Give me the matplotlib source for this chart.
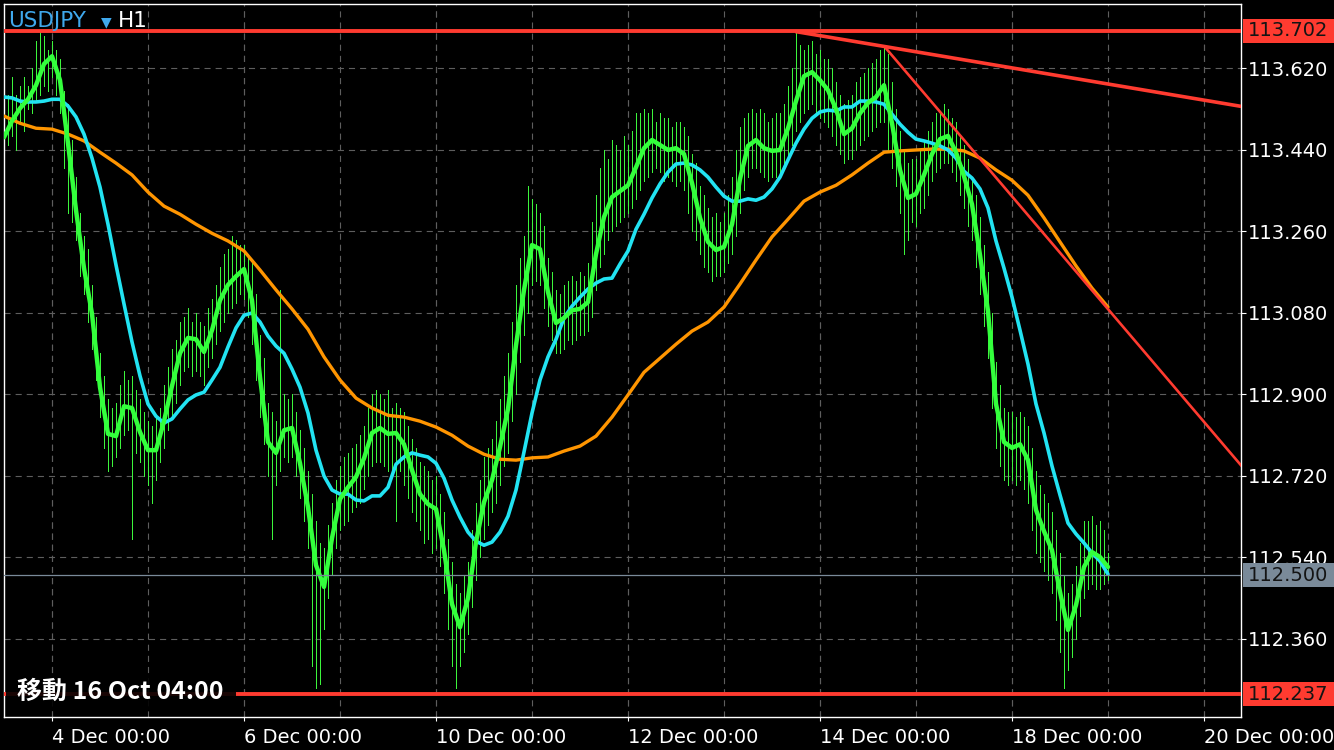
import matplotlib
matplotlib.use('Agg')
import matplotlib.pyplot as plt
import matplotlib.patches as mpatches
import matplotlib.transforms as mtransforms
import numpy as np

W, H = 1334, 750

# ---------------- data ----------------
symbol = "USDJPY"
timeframe = "H1"
x_tick_bars = [12, 60, 108, 156, 204, 252, 300]
x_tick_labels = ['4 Dec 00:00', '6 Dec 00:00', '10 Dec 00:00', '12 Dec 00:00',
                 '14 Dec 00:00', '18 Dec 00:00', '20 Dec 00:00']
y_ticks = [112.360, 112.540, 112.720, 112.900, 113.080, 113.260, 113.440, 113.620]

bar_high = [
    113.59, 113.56, 113.60, 113.56, 113.58, 113.60, 113.58, 113.62, 113.68, 113.70,
    113.69, 113.66, 113.68, 113.66, 113.64, 113.57, 113.54, 113.46, 113.38, 113.30,
    113.25, 113.22, 113.14, 113.07, 112.99, 112.94, 112.89, 112.87, 112.88, 112.92,
    112.95, 112.93, 112.94, 112.91, 112.89, 112.86, 112.84, 112.83, 112.85, 112.87,
    112.92, 112.96, 113.00, 113.02, 113.06, 113.07, 113.09, 113.06, 113.08, 113.06,
    113.05, 113.09, 113.11, 113.14, 113.18, 113.21, 113.22, 113.25, 113.24, 113.23,
    113.23, 113.21, 113.19, 113.12, 113.03, 112.98, 112.88, 112.86, 112.84, 113.13,
    112.90, 112.89, 112.90, 112.86, 112.82, 112.78, 112.73, 112.68, 112.62, 112.57,
    112.56, 112.61, 112.66, 112.71, 112.74, 112.76, 112.77, 112.78, 112.79, 112.81,
    112.83, 112.87, 112.90, 112.91, 112.90, 112.89, 112.91, 112.87, 112.88, 112.87,
    112.86, 112.83, 112.80, 112.78, 112.75, 112.74, 112.73, 112.71, 112.72, 112.68,
    112.64, 112.58, 112.53, 112.48, 112.46, 112.50, 112.53, 112.60, 112.66, 112.71,
    112.76, 112.78, 112.80, 112.84, 112.89, 112.94, 112.99, 113.06, 113.14, 113.20,
    113.25, 113.36, 113.33, 113.32, 113.30, 113.27, 113.20, 113.17, 113.13, 113.12,
    113.14, 113.15, 113.16, 113.15, 113.17, 113.16, 113.19, 113.28, 113.34, 113.40,
    113.44, 113.42, 113.46, 113.45, 113.44, 113.47, 113.45, 113.48, 113.52, 113.52,
    113.53, 113.52, 113.53, 113.50, 113.52, 113.51, 113.51, 113.49, 113.50, 113.50,
    113.49, 113.47, 113.43, 113.41, 113.36, 113.34, 113.31, 113.29, 113.30, 113.28,
    113.30, 113.34, 113.38, 113.44, 113.49, 113.51, 113.52, 113.53, 113.52, 113.53,
    113.52, 113.50, 113.51, 113.52, 113.52, 113.54, 113.58, 113.62, 113.70, 113.67,
    113.66, 113.67, 113.68, 113.65, 113.66, 113.64, 113.64, 113.62, 113.59, 113.56,
    113.54, 113.55, 113.56, 113.59, 113.60, 113.61, 113.62, 113.63, 113.64, 113.66,
    113.67, 113.65, 113.59, 113.53, 113.48, 113.44, 113.41, 113.42, 113.42, 113.44,
    113.46, 113.48, 113.50, 113.52, 113.52, 113.54, 113.53, 113.51, 113.50, 113.47,
    113.45, 113.42, 113.38, 113.34, 113.29, 113.23, 113.17, 113.08, 112.97, 112.92,
    112.87, 112.86, 112.86, 112.85, 112.86, 112.85, 112.83, 112.78, 112.73, 112.70,
    112.68, 112.66, 112.64, 112.60, 112.55, 112.50, 112.46, 112.48, 112.52, 112.57,
    112.62, 112.62, 112.63, 112.61, 112.62, 112.60, 112.55,
]
bar_low = [
    113.43, 113.45, 113.47, 113.44, 113.50, 113.48, 113.53, 113.52, 113.55, 113.56,
    113.58, 113.57, 113.60, 113.56, 113.52, 113.40, 113.30, 113.28, 113.24, 113.16,
    113.12, 113.06, 113.00, 112.93, 112.85, 112.78, 112.73, 112.74, 112.76, 112.78,
    112.81, 112.82, 112.58, 112.77, 112.75, 112.72, 112.70, 112.66, 112.71, 112.75,
    112.78, 112.82, 112.85, 112.88, 112.92, 112.95, 112.96, 112.94, 112.95, 112.94,
    112.92, 112.96, 112.98, 113.01, 113.04, 113.06, 113.08, 113.09, 113.10, 113.12,
    113.11, 113.07, 113.01, 112.93, 112.85, 112.79, 112.72, 112.58, 112.70, 112.73,
    112.76, 112.75, 112.76, 112.72, 112.67, 112.62, 112.56, 112.30, 112.25, 112.26,
    112.38, 112.45, 112.50, 112.56, 112.60, 112.61, 112.62, 112.64, 112.65, 112.66,
    112.69, 112.72, 112.74, 112.75, 112.75, 112.74, 112.73, 112.72, 112.62, 112.73,
    112.70, 112.67, 112.64, 112.62, 112.60, 112.57, 112.58, 112.55, 112.56, 112.52,
    112.46, 112.38, 112.30, 112.25, 112.30, 112.33, 112.37, 112.43, 112.49, 112.54,
    112.58, 112.61, 112.64, 112.66, 112.70, 112.74, 112.77, 112.84, 112.90, 112.97,
    113.03, 113.08, 113.14, 113.15, 113.14, 113.09, 113.05, 113.02, 112.99, 112.99,
    113.00, 113.02, 113.01, 113.02, 113.03, 113.03, 113.04, 113.07, 113.13, 113.18,
    113.21, 113.24, 113.26, 113.27, 113.28, 113.29, 113.30, 113.31, 113.33, 113.35,
    113.37, 113.38, 113.39, 113.40, 113.39, 113.37, 113.38, 113.37, 113.36, 113.37,
    113.35, 113.30, 113.26, 113.24, 113.21, 113.18, 113.17, 113.15, 113.16, 113.16,
    113.17, 113.19, 113.21, 113.25, 113.30, 113.35, 113.38, 113.40, 113.40, 113.39,
    113.38, 113.37, 113.38, 113.38, 113.39, 113.40, 113.42, 113.45, 113.48, 113.50,
    113.52, 113.53, 113.54, 113.52, 113.51, 113.50, 113.49, 113.47, 113.45, 113.43,
    113.41, 113.42, 113.42, 113.44, 113.45, 113.46, 113.47, 113.48, 113.49, 113.50,
    113.50, 113.44, 113.40, 113.36, 113.30, 113.21, 113.24, 113.28, 113.27, 113.30,
    113.31, 113.34, 113.37, 113.39, 113.40, 113.41, 113.41, 113.39, 113.37, 113.34,
    113.31, 113.27, 113.24, 113.18, 113.12, 113.05, 112.98, 112.87, 112.78, 112.74,
    112.71, 112.70, 112.71, 112.70, 112.71, 112.69, 112.66, 112.60, 112.55, 112.53,
    112.51, 112.49, 112.46, 112.40, 112.33, 112.25, 112.29, 112.32, 112.36, 112.41,
    112.45, 112.47, 112.48, 112.47, 112.47, 112.48, 112.49,
]

# fast and medium MA, one value every 2 bars
fast_step = 2
fast_ma = [
    113.467, 113.503, 113.531, 113.551, 113.582, 113.629, 113.646, 113.593, 113.454, 113.306,
    113.178, 113.077, 112.915, 112.812, 112.807, 112.873, 112.869, 112.816, 112.776, 112.776,
    112.840, 112.918, 112.990, 113.024, 113.021, 112.993, 113.041, 113.107, 113.141, 113.160,
    113.176, 113.107, 112.937, 112.794, 112.770, 112.820, 112.825, 112.747, 112.650, 112.522,
    112.474, 112.582, 112.668, 112.694, 112.717, 112.758, 112.814, 112.825, 112.812, 112.814,
    112.789, 112.732, 112.679, 112.657, 112.646, 112.555, 112.436, 112.385, 112.449, 112.573,
    112.661, 112.710, 112.783, 112.867, 113.008, 113.130, 113.229, 113.220, 113.125, 113.057,
    113.068, 113.085, 113.088, 113.103, 113.209, 113.291, 113.335, 113.348, 113.361, 113.401,
    113.443, 113.461, 113.450, 113.439, 113.443, 113.430, 113.366, 113.289, 113.236, 113.218,
    113.225, 113.275, 113.375, 113.448, 113.461, 113.443, 113.437, 113.439, 113.487, 113.547,
    113.602, 113.611, 113.593, 113.571, 113.529, 113.474, 113.487, 113.520, 113.543, 113.556,
    113.582, 113.498, 113.395, 113.333, 113.342, 113.384, 113.430, 113.463, 113.470, 113.434,
    113.381, 113.319, 113.207, 113.083, 112.878, 112.794, 112.781, 112.789, 112.754, 112.644,
    112.597, 112.555, 112.463, 112.379, 112.434, 112.518, 112.551, 112.540, 112.518,
]
mid_step = 2
mid_ma = [
    113.556, 113.554, 113.547, 113.545, 113.545, 113.547, 113.551, 113.551, 113.536, 113.512,
    113.474, 113.421, 113.357, 113.275, 113.185, 113.099, 113.015, 112.940, 112.878, 112.851,
    112.836, 112.845, 112.867, 112.887, 112.898, 112.904, 112.931, 112.959, 113.004, 113.046,
    113.074, 113.079, 113.059, 113.028, 113.006, 112.990, 112.955, 112.915, 112.858, 112.776,
    112.719, 112.688, 112.679, 112.679, 112.666, 112.664, 112.675, 112.675, 112.694, 112.745,
    112.761, 112.770, 112.765, 112.761, 112.747, 112.714, 112.666, 112.628, 112.595, 112.575,
    112.566, 112.573, 112.595, 112.630, 112.688, 112.772, 112.858, 112.931, 112.982, 113.021,
    113.068, 113.094, 113.114, 113.132, 113.145, 113.154, 113.156, 113.187, 113.216, 113.264,
    113.297, 113.333, 113.364, 113.390, 113.408, 113.410, 113.406, 113.395, 113.379, 113.357,
    113.337, 113.326, 113.326, 113.331, 113.328, 113.335, 113.353, 113.379, 113.417, 113.454,
    113.485, 113.509, 113.523, 113.527, 113.525, 113.534, 113.534, 113.547, 113.547, 113.545,
    113.540, 113.518, 113.496, 113.478, 113.463, 113.459, 113.454, 113.448, 113.439, 113.421,
    113.392, 113.377, 113.353, 113.311, 113.238, 113.178, 113.114, 113.041, 112.966, 112.878,
    112.814, 112.741, 112.677, 112.615, 112.591, 112.571, 112.549, 112.531, 112.502,
]
# slow MA, one value every 4 bars
slow_step = 4
slow_ma = [
    113.514, 113.498, 113.487, 113.485, 113.474, 113.459, 113.434, 113.410, 113.384, 113.346,
    113.315, 113.297, 113.275, 113.255, 113.238, 113.216, 113.174, 113.130, 113.088, 113.043,
    112.982, 112.931, 112.891, 112.869, 112.853, 112.849, 112.840, 112.827, 112.809, 112.785,
    112.767, 112.756, 112.754, 112.759, 112.761, 112.774, 112.785, 112.807, 112.849, 112.898,
    112.948, 112.979, 113.010, 113.039, 113.059, 113.092, 113.143, 113.196, 113.247, 113.286,
    113.326, 113.346, 113.361, 113.384, 113.410, 113.434, 113.437, 113.439, 113.441, 113.441,
    113.437, 113.421, 113.395, 113.372, 113.339, 113.289, 113.236, 113.183, 113.134, 113.092,
]

resistance = 113.702
support = 112.237
last_price = 112.500
trend1_bars = [198.25, 309.5]
trend1_prices = [113.700, 113.535]
trend2_bars = [220.25, 309.5]
trend2_prices = [113.666, 112.740]
note_text = "移動 16 Oct 04:00"

# ---------------- styles ----------------
BG = 'black'
BAR_C = '#3CF53C'
FAST_C = '#33FF3C'
MID_C = '#22E3F2'
SLOW_C = '#FF9500'
RED = '#FF3B30'
GRID_C = '#5E5E5E'
LAST_C = '#7A8A99'
BLUE = '#3FA8EC'
FS = 14

fig = plt.figure(figsize=(W / 100, H / 100), dpi=100, facecolor=BG)
L, R, T, B = 4, 1241, 4, 717
ax = fig.add_axes([L / W, 1 - B / H, (R - L) / W, (B - T) / H])
ax.set_facecolor(BG)
ax.set_xlim(0, 309.25)
ax.set_ylim(112.1867, 113.7614)

# grid
ax.set_yticks(y_ticks)
ax.set_yticklabels([f'{v:.3f}' for v in y_ticks])
ax.set_xticks(x_tick_bars)
ax.set_xticklabels(x_tick_labels)
ax.set_xticks(np.arange(12, 310, 24), minor=True)
ax.xaxis.remove_overlapping_locs = False
ax.grid(which='both', axis='x', color=GRID_C, lw=0.8, linestyle=(0, (5.5, 4.5)))
ax.grid(which='major', axis='y', color=GRID_C, lw=0.8, linestyle=(0, (5.5, 4.5)))
ax.set_axisbelow(True)

ax.yaxis.tick_right()
ax.tick_params(axis='y', which='major', direction='out', length=3.6, width=0.8,
               color='white', pad=1.5, labelsize=FS, labelcolor='white')
ax.tick_params(axis='x', which='major', direction='out', length=3.0, width=0.8,
               color='white', pad=5, labelsize=FS, labelcolor='white')
ax.tick_params(axis='x', which='minor', length=0)
for lab in ax.get_xticklabels():
    lab.set_horizontalalignment('left')
for s in ax.spines.values():
    s.set_color('white')
    s.set_linewidth(1.0)

# bars (thin high-low lines)
bx = np.arange(len(bar_high))
ax.vlines(bx, bar_low, bar_high, colors=BAR_C, lw=0.55, antialiased=False, zorder=2)

# moving averages
ax.plot(np.arange(len(slow_ma)) * slow_step, slow_ma, color=SLOW_C, lw=2.4, zorder=3,
        solid_capstyle='round', solid_joinstyle='round')
ax.plot(np.arange(len(mid_ma)) * mid_step, mid_ma, color=MID_C, lw=2.6, zorder=4,
        solid_capstyle='round', solid_joinstyle='round')
ax.plot(np.arange(len(fast_ma)) * fast_step, fast_ma, color=FAST_C, lw=3.2, zorder=5,
        solid_capstyle='round', solid_joinstyle='round')

# last price line
ax.axhline(last_price, color=LAST_C, lw=0.9, zorder=6)

# horizontal levels and trend lines
ax.axhline(resistance, color=RED, lw=2.8, zorder=7)
ax.axhline(support, color=RED, lw=2.8, zorder=7)
ax.plot(trend1_bars, trend1_prices, color=RED, lw=2.6, zorder=7)
ax.plot(trend2_bars, trend2_prices, color=RED, lw=1.9, zorder=7)

# price boxes on the right axis
trans = mtransforms.blended_transform_factory(fig.transFigure, ax.transData)
box_h = 24 * (113.7614 - 112.1867) / (B - T)
for price, fc in [(resistance, RED), (last_price, LAST_C), (support, RED)]:
    rect = mpatches.Rectangle((1243 / W, price - box_h / 2), 91 / W, box_h,
                              transform=trans, facecolor=fc, edgecolor='none',
                              clip_on=False, zorder=10)
    ax.add_patch(rect)
    ax.text(1248 / W, price, f'{price:.3f}', transform=trans, va='center', ha='left',
            color='#141414', fontsize=FS, clip_on=False, zorder=11)

# title
fig.text(8 / W, 1 - 27 / H, symbol, color=BLUE, fontsize=15.5, va='baseline')
fig.text(101 / W, 1 - 26 / H, '▼', color=BLUE, fontsize=10, va='baseline')
fig.text(118 / W, 1 - 27 / H, timeframe, color='white', fontsize=15.5, va='baseline')

# note label over support line
fig.add_artist(mpatches.Rectangle((6 / W, 1 - 708 / H), 230 / W, 32 / H,
                                  transform=fig.transFigure, facecolor='black',
                                  edgecolor='none', alpha=0.9, zorder=5))
fig.text(17 / W, 1 - 692 / H, note_text, color='white', fontsize=18, weight='bold',
         va='center', ha='left', family=['Noto Sans CJK JP', 'DejaVu Sans'], zorder=6)

fig.savefig('out.png', dpi=100, facecolor=BG)
